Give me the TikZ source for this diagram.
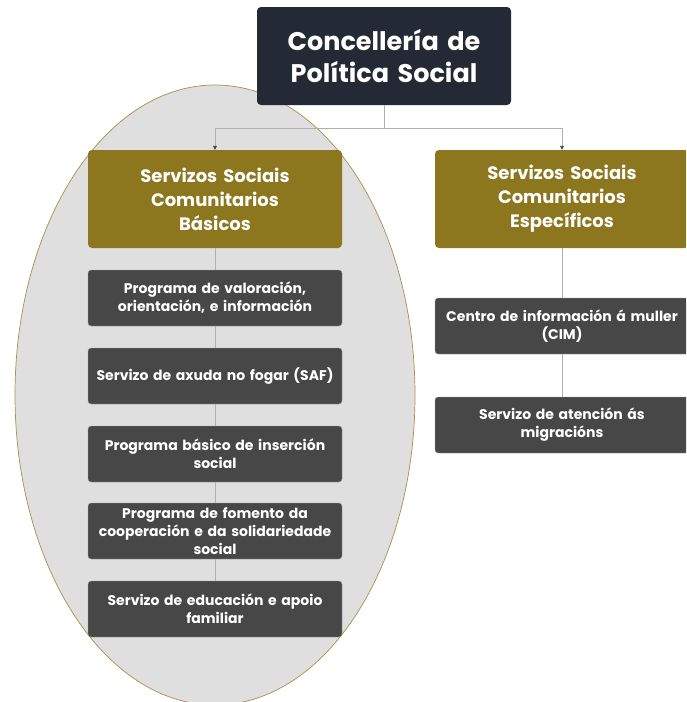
\documentclass[tikz,border=0pt]{standalone}
\usepackage{fontspec}
\setmainfont{Poppins}
\usetikzlibrary{arrows.meta}
\definecolor{navy}{HTML}{232A35}
\definecolor{gold}{HTML}{8C761E}
\definecolor{boxgray}{HTML}{474747}
\definecolor{ellfill}{HTML}{DFDFDF}
\definecolor{elledge}{HTML}{A8904A}
\definecolor{linegray}{HTML}{B0B0B0}
\tikzset{
  topbox/.style={fill=navy, rounded corners=4pt, minimum width=254pt, minimum height=98pt, text width=250pt, align=center, text=white, font=\fontsize{25.5}{32}\selectfont\bfseries, inner sep=0pt},
  goldbox/.style={fill=gold, rounded corners=4pt, minimum width=254pt, minimum height=98pt, text width=250pt, align=center, text=white, font=\fontsize{18}{24}\selectfont\bfseries, inner sep=0pt},
  graybox/.style={fill=boxgray, draw=gray!70, line width=0.4pt, rounded corners=3pt, minimum width=254pt, minimum height=56pt, text width=250pt, align=center, text=white, font=\fontsize{14}{18}\selectfont\bfseries, inner sep=0pt},
  conn/.style={draw=linegray, line width=0.7pt},
  arr/.style={conn, -{Triangle[length=4pt,width=4pt,fill=black!70,color=black!70]}}
}
\begin{document}
\begin{tikzpicture}[x=1pt,y=-1pt]
\useasboundingbox (0,0) rectangle (686,702);
\clip (0,0) rectangle (686,702);
\fill[white] (0,0) rectangle (686,702);
\draw[fill=ellfill, draw=elledge, line width=0.7pt] (215,395) ellipse [x radius=200, y radius=310];
\node[topbox] (top) at (384,56) {Concellería de\\Política Social};
\node[goldbox] (gl) at (215,199) {Servizos Sociais\\Comunitarios\\Básicos};
\node[goldbox] (gr) at (562,199) {Servizos Sociais\\Comunitarios\\Específicos};
\coordinate (j) at (384,128);
\node[graybox] (l1) at (215,298) {Programa de valoración,\\orientación, e información};
\node[graybox] (l2) at (215,376) {Servizo de axuda no fogar (SAF)};
\node[graybox] (l3) at (215,454) {Programa básico de inserción\\social};
\node[graybox] (l4) at (215,531) {Programa de fomento da\\cooperación e da solidariedade\\social};
\node[graybox] (l5) at (215,609) {Servizo de educación e apoio\\familiar};
\node[graybox] (r1) at (562,326) {\makebox[\linewidth][c]{Centro de información á muller}\\(CIM)};
\node[graybox] (r2) at (562,425) {Servizo de atención ás\\migracións};
\draw[conn] (top.south) -- (j);
\draw[arr] (j) -| (gl.north);
\draw[arr] (j) -| (gr.north);
\draw[conn] (gl.south) -- (l1.north);
\draw[conn] (l1.south) -- (l2.north);
\draw[conn] (l2.south) -- (l3.north);
\draw[conn] (l3.south) -- (l4.north);
\draw[conn] (l4.south) -- (l5.north);
\draw[conn] (gr.south) -- (r1.north);
\draw[conn] (r1.south) -- (r2.north);
\end{tikzpicture}
\end{document}
